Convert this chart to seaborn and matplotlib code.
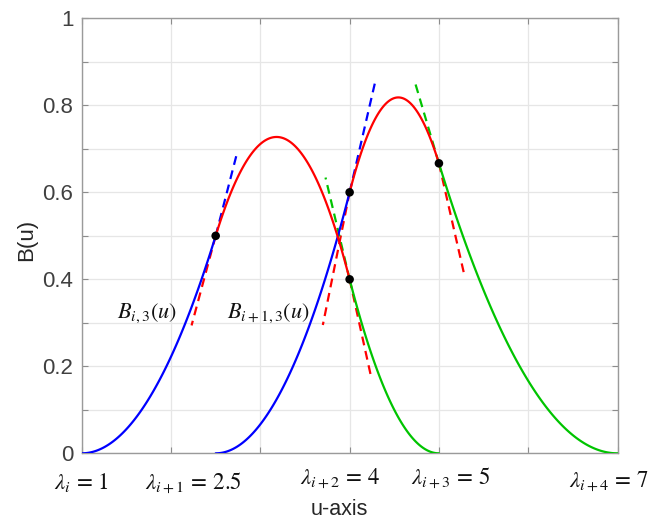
import numpy as np
import pandas as pd
import matplotlib
matplotlib.use("Agg")
import matplotlib.pyplot as plt
import seaborn as sns

# Knot vectors of the two quadratic (order 3) B-spline basis functions
knots_i = [1.0, 2.5, 4.0, 5.0]
knots_i1 = [2.5, 4.0, 5.0, 7.0]
curve_names = ["B_i3", "B_i13"]

# Knots where the two polynomial pieces meet (black dots)
joint_u_i = [2.5, 4.0]
joint_u_i1 = [4.0, 5.0]

# Dashed tangent segments: start knot, end point, piece colour index
tangent_u0 = [2.5, 2.5, 4.0, 4.0, 4.0, 4.0, 5.0, 5.0]
tangent_curve = [0, 0, 1, 1, 0, 0, 1, 1]
tangent_u1 = [2.73, 2.23, 4.284, 3.70, 3.73, 4.236, 4.73, 5.28]
tangent_y1 = [0.683, 0.294, 0.852, 0.295, 0.634, 0.18, 0.854, 0.414]
tangent_piece = [0, 1, 0, 1, 2, 1, 2, 1]

# Knot labels under the u axis
knot_labels = [r"$\lambda_i\,=\,1$", r"$\lambda_{i+1}\,=\,2.5$", r"$\lambda_{i+2}\,=\,4$",
               r"$\lambda_{i+3}\,=\,5$", r"$\lambda_{i+4}\,=\,7$"]
knot_label_u = [1.0, 2.25, 3.89, 5.13, 6.9]
knot_label_y = [-0.083, -0.083, -0.073, -0.073, -0.080]

y_ticks = [0, 0.1, 0.2, 0.3, 0.4, 0.5, 0.6, 0.7, 0.8, 0.9, 1.0]
y_tick_labels = ["0", "", "0.2", "", "0.4", "", "0.6", "", "0.8", "", "1"]
x_ticks = [1, 2, 3, 4, 5, 6, 7]

piece_colors = {0: "#0000ff", 1: "#ff0000", 2: "#00c400"}


def basis(knots, u, span):
    """Cox-de Boor recursion for one quadratic basis function on a given knot span."""
    u = np.asarray(u, dtype=float)
    N = [np.full_like(u, 1.0 if j == span else 0.0) for j in range(len(knots) - 1)]
    for k in (2, 3):
        nxt = []
        for j in range(len(knots) - k):
            left = (u - knots[j]) / (knots[j + k - 1] - knots[j]) * N[j]
            right = (knots[j + k] - u) / (knots[j + k] - knots[j + 1]) * N[j + 1]
            nxt.append(left + right)
        N = nxt
    return N[0]


rows = []
for name, kn in zip(curve_names, [knots_i, knots_i1]):
    for span in range(3):
        uu = np.linspace(kn[span], kn[span + 1], 120)
        vals = basis(kn, uu, span)
        for a, b in zip(uu, vals):
            rows.append({"u": a, "B": b, "piece": span, "segment": f"{name}-{span}"})
df = pd.DataFrame(rows)


def value_at(kn, u):
    span = max(j for j in range(3) if kn[j] <= u) if u < kn[3] else 2
    return float(basis(kn, np.array([u]), span)[0])


all_knots = [knots_i, knots_i1]
dots = pd.DataFrame({
    "u": joint_u_i + joint_u_i1,
    "B": [value_at(knots_i, u) for u in joint_u_i] + [value_at(knots_i1, u) for u in joint_u_i1],
})

sns.set_theme(style="whitegrid")
plt.rcParams["font.family"] = ["Liberation Sans", "DejaVu Sans"]
plt.rcParams["mathtext.fontset"] = "stix"

fig = plt.figure(figsize=(6.65, 5.21), dpi=100)
ax = fig.add_axes([0.1229, 0.1299, 0.8057, 0.8349])
ax.set_facecolor("white")

# Tangent lines at the joints
for u0, c, u1, y1, p in zip(tangent_u0, tangent_curve, tangent_u1, tangent_y1, tangent_piece):
    y0 = value_at(all_knots[c], u0)
    ax.plot([u0, u1], [y0, y1], color=piece_colors[p], lw=1.6,
            dashes=(4, 2.6), zorder=2, solid_capstyle="butt")

# Basis function pieces
sns.lineplot(data=df, x="u", y="B", hue="piece", units="segment", estimator=None,
             palette=piece_colors, linewidth=1.6, legend=False, sort=False, ax=ax, zorder=3)

sns.scatterplot(data=dots, x="u", y="B", color="black", s=38, edgecolor="none",
                ax=ax, zorder=4)

ax.text(1.73, 0.323, r"$B_{i,3}(u)$", fontsize=16, ha="center", va="center", color="#111111")
ax.text(3.086, 0.323, r"$B_{i+1,3}(u)$", fontsize=16, ha="center", va="center", color="#111111")

trans = ax.get_xaxis_transform()
for lab, xu, yy in zip(knot_labels, knot_label_u, knot_label_y):
    ax.text(xu, yy, lab, transform=trans, fontsize=16.5, ha="center", va="baseline",
            color="#111111", clip_on=False)

ax.set_xlim(1, 7)
ax.set_ylim(0, 1)
ax.set_xticks(x_ticks)
ax.set_xticklabels([""] * len(x_ticks))
ax.set_yticks(y_ticks)
ax.set_yticklabels(y_tick_labels)

ax.tick_params(axis="both", direction="in", length=4, width=0.8, color="#8c8c8c",
               top=True, right=True, bottom=True, left=True, labelsize=16,
               labelcolor="#404040", pad=6)
ax.grid(True, color="#e6e6e6", linewidth=0.9)
ax.set_axisbelow(True)
for sp in ax.spines.values():
    sp.set_visible(True)
    sp.set_color("#9a9a9a")
    sp.set_linewidth(1.0)

ax.set_xlabel("u-axis", fontsize=15.5, color="#262626")
ax.xaxis.label.set_va("center")
ax.xaxis.set_label_coords(0.481, -0.130)
ax.set_ylabel("B(u)", fontsize=16, color="#262626")
ax.yaxis.label.set_va("center")
ax.yaxis.set_label_coords(-0.102, 0.49)

fig.savefig("out.png", dpi=100)
